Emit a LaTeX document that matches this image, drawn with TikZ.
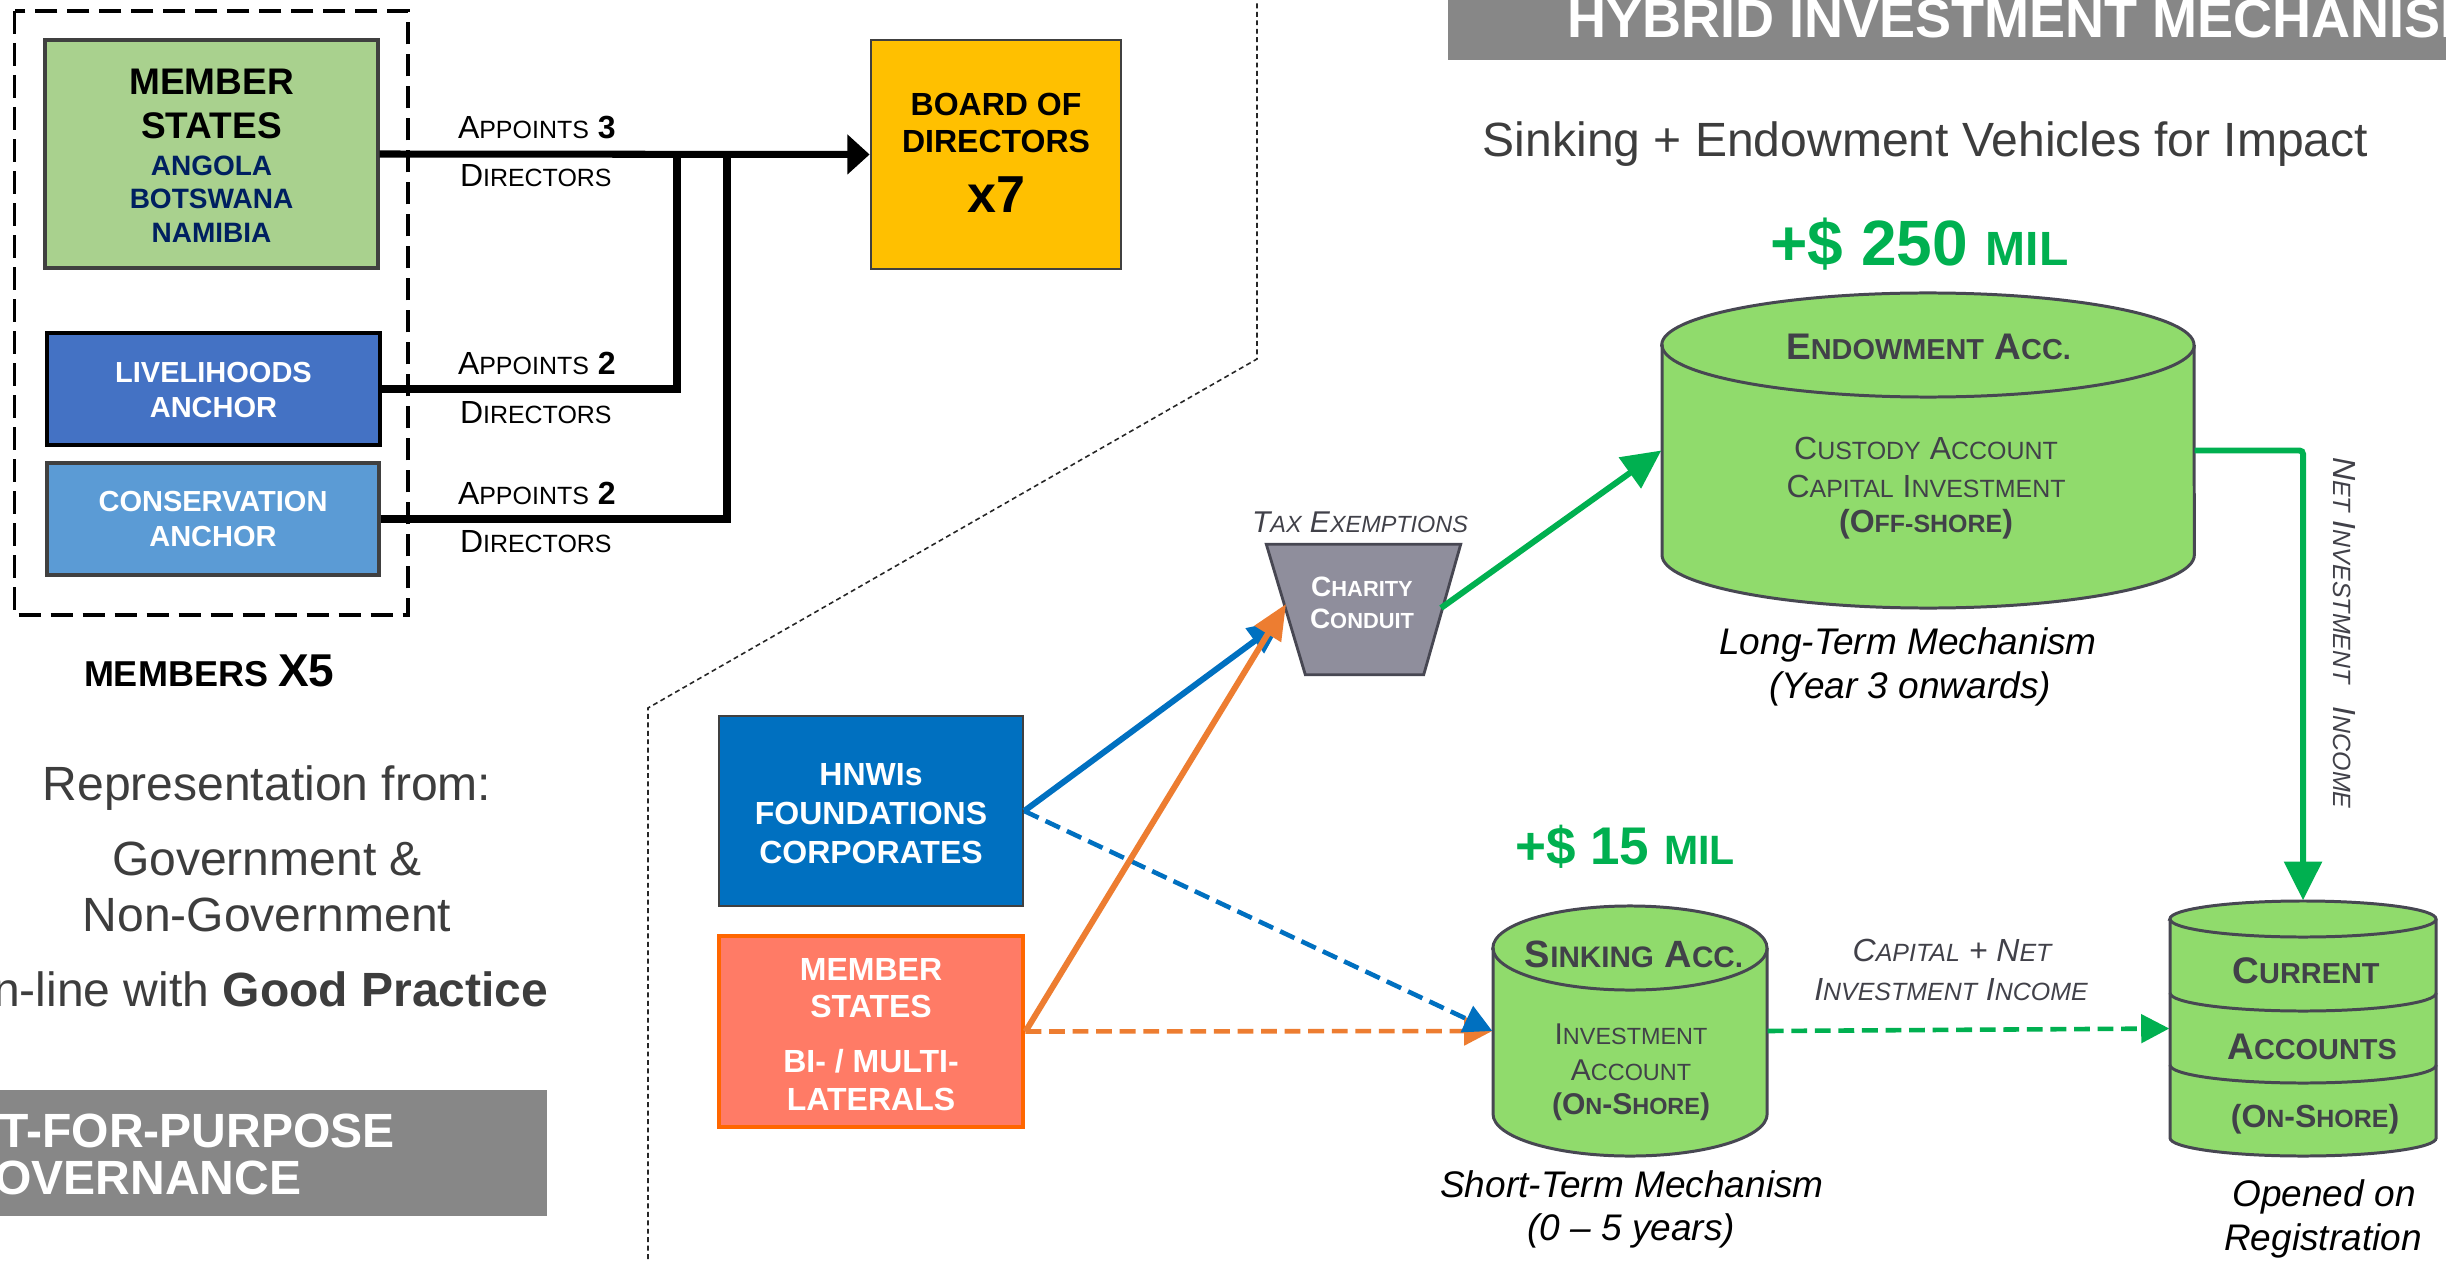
\documentclass[tikz,border=0pt]{standalone}
\usepackage{fontspec}
\setmainfont{Liberation Sans}
\usepackage{graphicx}
\usetikzlibrary{arrows.meta,fit,calc}
\newcommand\sC[1]{\scalebox{0.78}{#1}}
\newcommand\fz[1]{\fontsize{#1}{#1}\selectfont}
\definecolor{memgreen}{HTML}{A9D18E}
\definecolor{livblue}{HTML}{4472C4}
\definecolor{consblue}{HTML}{5B9BD5}
\definecolor{gold}{HTML}{FFC000}
\definecolor{navy}{HTML}{002060}
\definecolor{hnwiblue}{HTML}{0070C0}
\definecolor{salmon}{HTML}{FF7B66}
\definecolor{orangeline}{HTML}{FF6600}
\definecolor{orangearrow}{HTML}{ED7D31}
\definecolor{mygreen}{HTML}{00B050}
\definecolor{cylfill}{HTML}{90DB6C}
\definecolor{cylline}{HTML}{474752}
\definecolor{cyltext}{HTML}{414149}
\definecolor{conduitfill}{HTML}{8F8E9C}
\definecolor{boxgrey}{HTML}{878787}
\definecolor{tgrey}{HTML}{3D3D3D}
\definecolor{darkline}{HTML}{404040}
\begin{document}
\begin{tikzpicture}[x=0.01cm,y=-0.01cm,
  txt/.style={inner sep=0pt, outer sep=0pt, anchor=base},
  boxfit/.style={inner sep=0pt},
  blkline/.style={line width=2pt, black, line join=miter},
  blkarrow/.style={blkline, -{Triangle[length=6.3pt,width=11pt]}},
  greenarrow/.style={line width=1.7pt, mygreen, rounded corners=1pt, -{Triangle[length=11pt,width=10.5pt]}},
  solidarrow/.style={line width=1.7pt, -{Triangle[length=10pt,width=8.5pt]}},
  dasharrow/.style={line width=1.3pt, dash pattern=on 4.5pt off 2.2pt, -{Triangle[length=8pt,width=8pt]}},
  cyl/.style={fill=cylfill, draw=cylline, line width=0.85pt},
]
\useasboundingbox (0,0) rectangle (2446,1261);
\clip (0,0) rectangle (2446,1261);
\fill[white] (0,0) rectangle (2446,1261);

% ---------- separators ----------
\coordinate (s1) at (1257,-5);
\coordinate (s2) at (1257,359);
\coordinate (s3) at (648,708);
\coordinate (s4) at (648,1270);
\draw[line width=0.45pt, black!85, dash pattern=on 1.4pt off 1pt] (s1) -- (s2) -- (s3) -- (s4);

% ---------- left: governance ----------
\draw[line width=1.1pt, dash pattern=on 6.5pt off 2.6pt] (14.5,11) rectangle (408,615);

\node[boxfit, fit={(45,40)(378,268)}, fill=memgreen, draw=darkline, line width=0.9pt] (member) {};
\node[txt, font=\fz{10.53pt}\bfseries] at (211.5,95) {MEMBER};
\node[txt, font=\fz{10.53pt}\bfseries] at (211.5,139) {STATES};
\node[txt, font=\fz{7.97pt}\bfseries, text=navy] at (211.5,176) {ANGOLA};
\node[txt, font=\fz{7.97pt}\bfseries, text=navy] at (211.5,209) {BOTSWANA};
\node[txt, font=\fz{7.97pt}\bfseries, text=navy] at (211.5,243) {NAMIBIA};

\node[boxfit, fit={(47,333)(380,445)}, fill=livblue, draw=black, line width=0.9pt] (liveli) {};
\node[txt, font=\fz{8.25pt}\bfseries, text=white] at (213.5,382.5) {LIVELIHOODS};
\node[txt, font=\fz{8.25pt}\bfseries, text=white] at (213.5,417.5) {ANCHOR};

\node[boxfit, fit={(47,463)(379,575)}, fill=consblue, draw=darkline, line width=0.9pt] (conserv) {};
\node[txt, font=\fz{8.25pt}\bfseries, text=white] at (213,511.5) {CONSERVATION};
\node[txt, font=\fz{8.25pt}\bfseries, text=white] at (213,546.5) {ANCHOR};

\node[boxfit, fit={(871,40)(1121,269)}, fill=gold, draw=darkline, line width=0.8pt] (board) {};
\node[txt, font=\fz{9.1pt}\bfseries] at (996,115.5) {BOARD OF};
\node[txt, font=\fz{9.1pt}\bfseries] at (996,152.5) {DIRECTORS};
\node[txt, font=\fz{14.79pt}\bfseries] at (996,212.5) {x7};

\coordinate (j1) at (677,154);
\coordinate (j2) at (727,154);
\draw[blkline] (liveli.east) -| (j1);
\draw[blkline] (conserv.east) -| (j2);
\draw[blkarrow] (member.east) -- (board.west);

\node[txt, anchor=base west, font=\fz{9.1pt}] at (458,138.5) {A\sC{PPOINTS} \textbf{3}};
\node[txt, anchor=base west, font=\fz{9.1pt}] at (460,186.6) {D\sC{IRECTORS}};
\node[txt, anchor=base west, font=\fz{9.1pt}] at (458,375) {A\sC{PPOINTS} \textbf{2}};
\node[txt, anchor=base west, font=\fz{9.1pt}] at (460,423) {D\sC{IRECTORS}};
\node[txt, anchor=base west, font=\fz{9.1pt}] at (458,504) {A\sC{PPOINTS} \textbf{2}};
\node[txt, anchor=base west, font=\fz{9.1pt}] at (460,552.6) {D\sC{IRECTORS}};

\node[txt, anchor=base west, font=\bfseries] at (84,686.5) {\fz{10.24pt}MEMBERS \fz{13.09pt}X5};

\node[txt, font=\fz{13.66pt}, text=tgrey] at (267,800) {Representation from:};
\node[txt, font=\fz{13.66pt}, text=tgrey] at (267,875) {Government \&};
\node[txt, font=\fz{13.66pt}, text=tgrey] at (267,931) {Non-Government};
\node[txt, font=\fz{13.66pt}, text=tgrey] at (264,1006) {In-line with \textbf{Good Practice}};

\node[boxfit, fit={(-5,1090)(547,1216)}, fill=boxgrey] (fitbox) {};
\node[txt, anchor=base west, font=\fz{13.66pt}\bfseries, text=white] at (-43,1147) {FIT-FOR-PURPOSE};
\node[txt, anchor=base west, font=\fz{13.66pt}\bfseries, text=white] at (-43,1194) {GOVERNANCE};

% ---------- right: investment ----------
\node[boxfit, fit={(1448,-5)(2455,60)}, fill=boxgrey] (title) {};
\node[txt, anchor=base west, font=\fz{15.36pt}\bfseries, text=white] at (1567,38) {HYBRID INVESTMENT MECHANISM};

\node[txt, font=\fz{13.66pt}, text=tgrey] at (1925.5,157) {Sinking + Endowment Vehicles for Impact};

\node[txt, font=\bfseries, text=mygreen] at (1919.5,266) {\fz{18.21pt}+\$ 250 \fz{13.66pt}MIL};

% Endowment cylinder
\node[boxfit, fit={(1662,293)(2194,608)}] (endow) {};
\filldraw[cyl] (1662,345) -- (1662,555) arc[start angle=180,end angle=360,x radius=2.66cm,y radius=0.53cm]
  -- (2194,345) arc[start angle=0,end angle=180,x radius=2.66cm,y radius=0.52cm] -- cycle;
\draw[cylline, line width=0.85pt] (1662,345) arc[start angle=180,end angle=360,x radius=2.66cm,y radius=0.52cm];
\node[txt, font=\fz{10.53pt}\bfseries, text=cyltext] at (1928.5,360) {E\sC{NDOWMENT} A\sC{CC.}};
\node[txt, font=\fz{9.1pt}, text=cyltext] at (1926,459) {C\sC{USTODY} A\sC{CCOUNT}};
\node[txt, font=\fz{9.1pt}, text=cyltext] at (1926,498) {C\sC{APITAL} I\sC{NVESTMENT}};
\node[txt, font=\fz{9.1pt}\bfseries, text=cyltext] at (1926,532) {(O\sC{FF-SHORE})};
\node[txt, font=\fz{10.53pt}\itshape] at (1908,654) {Long-Term Mechanism};
\node[txt, font=\fz{10.53pt}\itshape] at (1910,698) {(Year 3 onwards)};

% Charity conduit
\node[boxfit, fit={(1267,545)(1460,674)}] (conduit) {};
\filldraw[fill=conduitfill, draw=cylline, line width=0.8pt]
  (conduit.north west) -- (conduit.north east) -- ($(conduit.south east)+(-37,0)$) -- ($(conduit.south west)+(39,0)$) -- cycle;
\node[txt, font=\fz{7.97pt}\bfseries, text=white] at (1362,596) {C\sC{HARITY}};
\node[txt, font=\fz{7.97pt}\bfseries, text=white] at (1362,628) {C\sC{ONDUIT}};
\node[txt, font=\fz{8.54pt}\itshape, text=cyltext] at (1360,532) {T\sC{AX} E\sC{XEMPTIONS}};

% Sources
\node[boxfit, fit={(719,716)(1023,906)}, fill=hnwiblue, draw=darkline, line width=0.7pt] (hnwi) {};
\node[txt, font=\fz{9.1pt}\bfseries, text=white] at (871,785) {HNWIs};
\node[txt, font=\fz{9.1pt}\bfseries, text=white] at (871,824.6) {FOUNDATIONS};
\node[txt, font=\fz{9.1pt}\bfseries, text=white] at (871,863) {CORPORATES};

\node[boxfit, fit={(719,936)(1023,1127)}, fill=salmon, draw=orangeline, line width=1.4pt] (states) {};
\node[txt, font=\fz{9.1pt}\bfseries, text=white] at (871,980) {MEMBER};
\node[txt, font=\fz{9.1pt}\bfseries, text=white] at (871,1017) {STATES};
\node[txt, font=\fz{9.1pt}\bfseries, text=white] at (871,1072) {BI- / MULTI-};
\node[txt, font=\fz{9.1pt}\bfseries, text=white] at (871,1110.5) {LATERALS};

% Sinking cylinder
\node[boxfit, fit={(1493,906)(1767,1156)}] (sink) {};
\filldraw[cyl] (1493,948) -- (1493,1114) arc[start angle=180,end angle=360,x radius=1.37cm,y radius=0.42cm]
  -- (1767,948) arc[start angle=0,end angle=180,x radius=1.37cm,y radius=0.42cm] -- cycle;
\draw[cylline, line width=0.85pt] (1493,948) arc[start angle=180,end angle=360,x radius=1.37cm,y radius=0.42cm];
\node[txt, font=\fz{10.81pt}\bfseries, text=cyltext] at (1634,967.6) {S\sC{INKING} A\sC{CC.}};
\node[txt, font=\fz{8.54pt}, text=cyltext] at (1631,1044) {I\sC{NVESTMENT}};
\node[txt, font=\fz{8.54pt}, text=cyltext] at (1631,1080) {A\sC{CCOUNT}};
\node[txt, font=\fz{8.54pt}\bfseries, text=cyltext] at (1631,1114) {(O\sC{N}-S\sC{HORE})};
\node[txt, font=\bfseries, text=mygreen] at (1625,864) {\fz{15.08pt}+\$ 15 \fz{11.66pt}MIL};
\node[txt, font=\fz{10.53pt}\itshape] at (1632,1197) {Short-Term Mechanism};
\node[txt, font=\fz{10.53pt}\itshape] at (1631,1240) {(0 – 5 years)};

% Current accounts cylinder
\node[boxfit, fit={(2170,901)(2436,1156)}] (current) {};
\filldraw[cyl] (2170,919) -- (2170,1138) arc[start angle=180,end angle=360,x radius=1.33cm,y radius=0.18cm]
  -- (2436,919) arc[start angle=0,end angle=180,x radius=1.33cm,y radius=0.18cm] -- cycle;
\draw[cylline, line width=0.85pt] (2170,919) arc[start angle=180,end angle=360,x radius=1.33cm,y radius=0.18cm];
\draw[cylline, line width=0.85pt] (2170,993) arc[start angle=180,end angle=360,x radius=1.33cm,y radius=0.18cm];
\draw[cylline, line width=0.85pt] (2170,1065) arc[start angle=180,end angle=360,x radius=1.33cm,y radius=0.18cm];
\node[txt, font=\fz{10.53pt}\bfseries, text=cyltext] at (2306,983) {C\sC{URRENT}};
\node[txt, font=\fz{10.53pt}\bfseries, text=cyltext] at (2312,1059) {A\sC{CCOUNTS}};
\node[txt, font=\fz{9.1pt}\bfseries, text=cyltext] at (2315,1127) {(O\sC{N}-S\sC{HORE})};
\node[txt, font=\fz{10.53pt}\itshape] at (2324,1206) {Opened on};
\node[txt, font=\fz{10.53pt}\itshape] at (2323,1250) {Registration};

\node[txt, font=\fz{9.1pt}\itshape, text=cyltext] at (1952,961) {C\sC{APITAL} + N\sC{ET}};
\node[txt, font=\fz{9.1pt}\itshape, text=cyltext] at (1951,1000.5) {I\sC{NVESTMENT} I\sC{NCOME}};
\node[txt, anchor=base west, rotate=-90, font=\fz{9.1pt}\itshape, text=cyltext] at (2333,457) {N\sC{ET} I\sC{NVESTMENT}\hspace{4pt} I\sC{NCOME}};

% ---------- connectors ----------
\coordinate (cinB) at (1283,620);
\coordinate (cinO) at (1286,604);
\coordinate (cout) at (1441,608);
\draw[dasharrow, orangearrow] (states.east) -- (sink.west);
\draw[dasharrow, hnwiblue] (hnwi.east) -- (sink.west);
\draw[solidarrow, hnwiblue] (hnwi.east) -- (cinB);
\draw[solidarrow, orangearrow] (states.east) -- (cinO);
\draw[greenarrow] (cout) -- (endow.west);
\draw[greenarrow] (endow.east) -| (current.north);
\draw[dasharrow, mygreen] (sink.east) -- (current.west);
\end{tikzpicture}
\end{document}
